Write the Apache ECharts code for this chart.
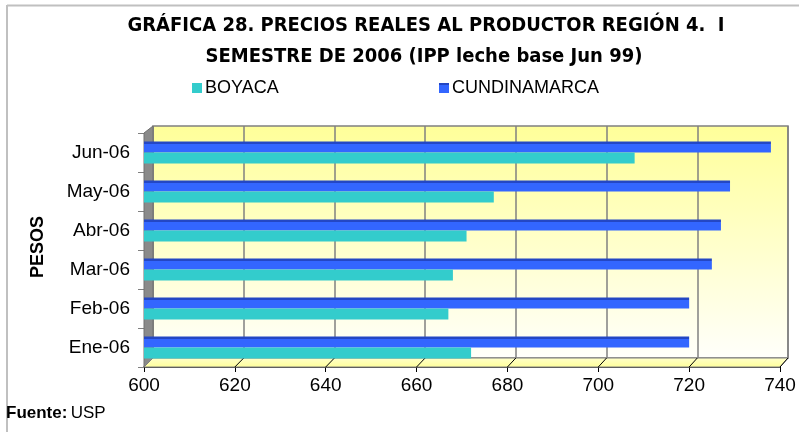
<!DOCTYPE html>
<html>
<head>
<meta charset="utf-8">
<script src="https://cdn.jsdelivr.net/npm/echarts@6/dist/echarts.min.js"></script>
<style>html,body{margin:0;padding:0;background:#fff}#c{width:799px;height:432px}</style>
</head>
<body>
<div id="c"></div>
<script>
const categories = ['Ene-06', 'Feb-06', 'Mar-06', 'Abr-06', 'May-06', 'Jun-06'];
const boyaca = [672, 667, 668, 671, 677, 708];
const cundinamarca = [720, 720, 725, 727, 729, 738];
const seriesNames = ['BOYACA', 'CUNDINAMARCA'];
const xMin = 600, xMax = 740, xStep = 20;
const titleLines = ['GRÁFICA 28. PRECIOS REALES AL PRODUCTOR REGIÓN 4.  I', 'SEMESTRE DE 2006 (IPP leche base Jun 99)'];
const yName = 'PESOS';

const narrow = '"Liberation Sans Narrow", "DejaVu Sans Condensed", "Liberation Sans", Arial, sans-serif';
const sans = '"Liberation Sans", Arial, sans-serif';

const chart = echarts.init(document.getElementById('c'), null, {renderer: 'canvas'});

const option = {
  animation: false,
  backgroundColor: '#ffffff',
  grid: [
    {left: 144, right: 19, top: 133, bottom: 65, containLabel: false, outerBoundsMode: 'none'},
    {left: 153, right: 11, top: 126, bottom: 74, containLabel: false, outerBoundsMode: 'none', show: true, z: 0,
      borderColor: '#808080', borderWidth: 1.5,
      backgroundColor: {type: 'linear', x: 0, y: 0, x2: 0, y2: 1, colorStops: [
        {offset: 0, color: '#ffff99'}, {offset: 1, color: '#fffffb'}]}}
  ],
  xAxis: [
    {type: 'value', gridIndex: 0, min: xMin, max: xMax, interval: xStep,
      axisLine: {show: true, lineStyle: {color: '#000', width: 1.5}},
      axisTick: {show: true, length: 5, lineStyle: {color: '#000'}},
      splitLine: {show: false},
      axisLabel: {color: '#000', fontSize: 19, fontFamily: sans, margin: 9}},
    {type: 'value', gridIndex: 1, min: xMin, max: xMax, interval: xStep,
      axisLine: {show: false}, axisTick: {show: false}, axisLabel: {show: false},
      splitLine: {show: true, lineStyle: {color: '#808080', width: 1.5}}}
  ],
  yAxis: [
    {type: 'category', gridIndex: 0, data: categories,
      axisLine: {show: false},
      axisTick: {show: true, length: 6, lineStyle: {color: '#808080'}},
      axisLabel: {color: '#000', fontSize: 19, fontFamily: sans, margin: 14}},
    {type: 'category', gridIndex: 1, data: categories, show: false}
  ],
  legend: [
    {data: [seriesNames[0]], left: 187, top: 74, itemWidth: 10, itemHeight: 10, icon: 'rect',
      textStyle: {fontSize: 18, fontFamily: sans, color: '#000', padding: [0, 0, 0, -2]}},
    {data: [seriesNames[1]], left: 434, top: 74, itemWidth: 10, itemHeight: 10, icon: 'rect',
      textStyle: {fontSize: 18, fontFamily: sans, color: '#000', padding: [0, 0, 0, -2]}}
  ],
  series: [
    {name: seriesNames[1], type: 'bar', xAxisIndex: 0, yAxisIndex: 0, data: cundinamarca, barWidth: 11, barGap: '0%', z: 3,
      itemStyle: {color: {type: 'linear', x: 0, y: 0, x2: 0, y2: 1, colorStops: [
        {offset: 0, color: '#2447c4'}, {offset: 0.2, color: '#2447c4'}, {offset: 0.2, color: '#3366ff'}, {offset: 1, color: '#3366ff'}]}}},
    {name: seriesNames[0], type: 'bar', xAxisIndex: 0, yAxisIndex: 0, data: boyaca, barWidth: 11, barGap: '0%', z: 3,
      itemStyle: {color: '#33cccc'}}
  ],
  graphic: [
    {type: 'line', z: 10, shape: {x1: 7, y1: 5.5, x2: 799, y2: 5.5}, style: {stroke: '#c0c0c0', lineWidth: 2}},
    {type: 'line', z: 10, shape: {x1: 7, y1: 5, x2: 7, y2: 432}, style: {stroke: '#c0c0c0', lineWidth: 2}},
    {type: 'text', z: 10, style: {x: 426, y: 26, text: titleLines[0], textAlign: 'center', textVerticalAlign: 'middle',
      font: 'bold 20px ' + narrow, fill: '#000'}},
    {type: 'text', z: 10, style: {x: 424, y: 57, text: titleLines[1], textAlign: 'center', textVerticalAlign: 'middle',
      font: 'bold 20px ' + narrow, fill: '#000'}},
    {type: 'text', z: 10, x: 38, y: 247, rotation: Math.PI / 2, style: {x: 0, y: 0, text: yName, textAlign: 'center', textVerticalAlign: 'middle',
      font: 'bold 18px ' + sans, fill: '#000'}},
    {type: 'text', z: 10, style: {x: 6, y: 413, text: '{b|Fuente:} {n|USP}', textVerticalAlign: 'middle',
      rich: {b: {fontWeight: 'bold', fontSize: 17, fontFamily: sans, fill: '#000'}, n: {fontSize: 17, fontFamily: sans, fill: '#000'}}}}
  ]
};
chart.setOption(option);

// 3D decoration: left wall, floor and floor tick diagonals derived from the axes
const p0f = chart.convertToPixel({xAxisIndex: 0}, xMin);
const p1f = chart.convertToPixel({xAxisIndex: 0}, xMax);
const p0b = chart.convertToPixel({xAxisIndex: 1}, xMin);
const p1b = chart.convertToPixel({xAxisIndex: 1}, xMax);
const frontBottom = 367, backBottom = 358, frontTop = 133, backTop = 126;
const deco = [
  {type: 'polygon', z: 1, shape: {points: [[p0f, frontTop], [p0b, backTop], [p0b, backBottom], [p0f, frontBottom]]},
    style: {fill: '#8a8a8a', stroke: '#707070', lineWidth: 1}},
  {type: 'polygon', z: 1, shape: {points: [[p0f, frontBottom], [p0b, backBottom], [p1b, backBottom], [p1f, frontBottom]]},
    style: {fill: {type: 'linear', x: 0, y: 0, x2: 0, y2: 1, colorStops: [{offset: 0, color: '#ffffcc'}, {offset: 1, color: '#ffff99'}]},
      stroke: '#808080', lineWidth: 1}}
];
for (let v = xMin + xStep; v <= xMax; v += xStep) {
  const xf = chart.convertToPixel({xAxisIndex: 0}, v);
  const xb = chart.convertToPixel({xAxisIndex: 1}, v);
  deco.push({type: 'line', z: 2, shape: {x1: xf, y1: frontBottom, x2: xb, y2: backBottom}, style: {stroke: '#000', lineWidth: 1}});
}
chart.setOption({graphic: option.graphic.concat(deco)}, {replaceMerge: ['graphic']});
</script>
</body>
</html>
